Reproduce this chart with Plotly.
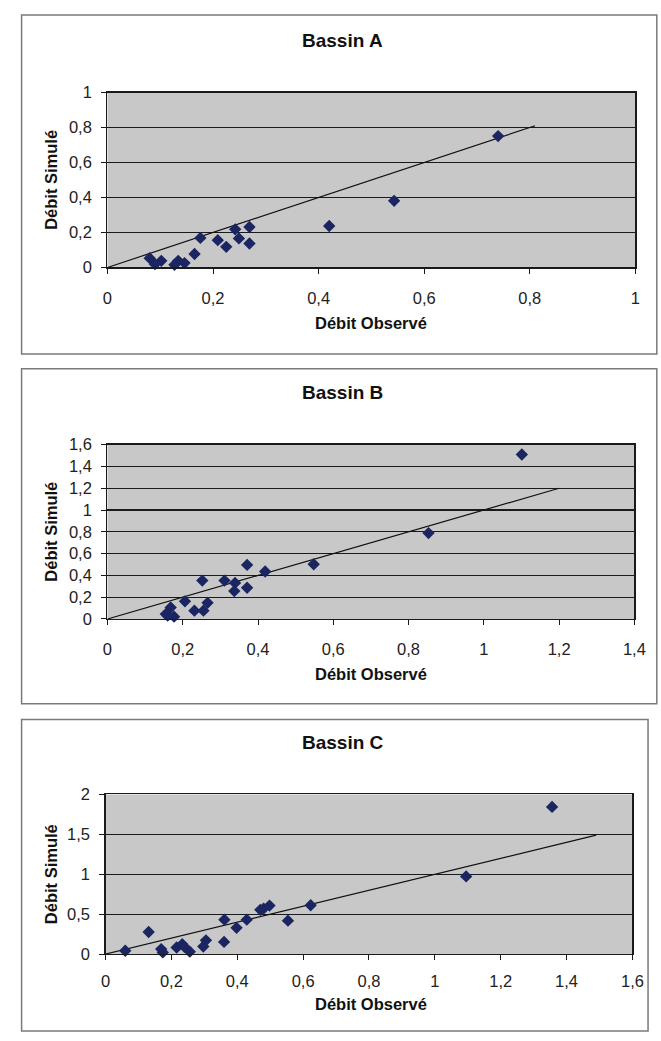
import plotly.graph_objects as go

W, H = 661, 1041

# ---- data ----
titles = ["Bassin A", "Bassin B", "Bassin C"]
x_title = "Débit Observé"
y_title = "Débit Simulé"

A_obs = [0.74, 0.543, 0.42, 0.269, 0.242, 0.249, 0.269, 0.209, 0.225, 0.176, 0.165, 0.134, 0.146, 0.127, 0.08, 0.102, 0.09]
A_sim = [0.751, 0.381, 0.237, 0.231, 0.218, 0.166, 0.137, 0.156, 0.118, 0.169, 0.077, 0.038, 0.025, 0.015, 0.053, 0.038, 0.019]

B_obs = [1.101, 0.853, 0.548, 0.419, 0.371, 0.371, 0.311, 0.339, 0.337, 0.252, 0.266, 0.255, 0.231, 0.206, 0.168, 0.155, 0.177, 0.16]
B_sim = [1.509, 0.788, 0.502, 0.436, 0.496, 0.286, 0.352, 0.331, 0.256, 0.352, 0.148, 0.076, 0.076, 0.162, 0.105, 0.045, 0.021, 0.03]

C_obs = [0.06, 0.131, 0.169, 0.174, 0.216, 0.233, 0.24, 0.256, 0.297, 0.305, 0.36, 0.361, 0.398, 0.429, 0.47, 0.48, 0.498, 0.554, 0.623, 1.095, 1.356]
C_sim = [0.042, 0.276, 0.062, 0.021, 0.082, 0.123, 0.09, 0.03, 0.095, 0.172, 0.152, 0.431, 0.329, 0.431, 0.554, 0.57, 0.608, 0.419, 0.612, 0.973, 1.844]

line_end = [0.81, 1.2, 1.49]          # 1:1 line extent
x_max = [1.0, 1.4, 1.6]
y_max = [1.0, 1.6, 2.0]
y_dtick = [0.2, 0.2, 0.5]

obs = [A_obs, B_obs, C_obs]
sim = [A_sim, B_sim, C_sim]

# ---- layout geometry (pixels) ----
plot_px = [  # x0, x1, ytop, ybottom
    (105, 646, 85, 263),
    (105, 645, 443.3, 620.7),
    (103, 643, 799.3, 961.7),
]
frames_px = [(17, 6, 668, 351), (17, 366, 668, 707), (17, 723, 659, 1040)]
title_y = [32, 390, 746]
xtitle_y = [320, 677, 1013]
x_standoff = [10, 10, 7]

def fx(p):
    return p / W

def fy(p):
    return 1 - p / H

FONT = "Liberation Sans, Arial, sans-serif"
fig = go.Figure()
annotations = []
shapes = []

for i in range(3):
    sfx = "" if i == 0 else str(i + 1)
    xa, ya = "x" + sfx, "y" + sfx
    fig.add_trace(go.Scatter(
        x=[0, line_end[i]], y=[0, line_end[i]], mode="lines",
        line=dict(color="#111111", width=1.2), xaxis=xa, yaxis=ya,
        showlegend=False, hoverinfo="skip"))
    fig.add_trace(go.Scatter(
        x=obs[i], y=sim[i], mode="markers",
        marker=dict(symbol="diamond", size=9.5, color="#1b2562"),
        xaxis=xa, yaxis=ya, showlegend=False, cliponaxis=False))

    x0, x1, yt, yb = plot_px[i]
    axis_common = dict(
        showline=True, linecolor="#1a1a1a", linewidth=1.3, mirror=True,
        ticks="outside", ticklen=5, tickcolor="#1a1a1a", tickwidth=1,
        tickfont=dict(family=FONT, size=16.5, color="#222222"),
        zeroline=False, fixedrange=True)
    fig.layout["xaxis" + sfx] = dict(
        domain=[fx(x0), fx(x1)], range=[0, x_max[i]], dtick=0.2, tick0=0,
        showgrid=False, anchor=ya, ticklabelstandoff=x_standoff[i], **axis_common)
    fig.layout["yaxis" + sfx] = dict(
        domain=[fy(yb), fy(yt)], range=[0, y_max[i]], dtick=y_dtick[i], tick0=0,
        showgrid=True, gridcolor="#1a1a1a", gridwidth=1.3, anchor=xa,
        ticklabelstandoff=6, **axis_common)

    # plot area background
    shapes.append(dict(type="rect", xref="paper", yref="paper",
                       x0=fx(x0), x1=fx(x1), y0=fy(yb), y1=fy(yt),
                       fillcolor="#c8c8c8", line=dict(width=0), layer="below"))
    # chart frame
    f = frames_px[i]
    shapes.append(dict(type="rect", xref="paper", yref="paper",
                       x0=fx(f[0]), x1=fx(f[2]), y0=fy(f[3]), y1=fy(f[1]),
                       line=dict(color="#7a7a7a", width=1.5), layer="below"))

    annotations.append(dict(text="<b>%s</b>" % titles[i], xref="paper", yref="paper",
                            x=fx(346), y=fy(title_y[i]), showarrow=False,
                            xanchor="center", yanchor="middle",
                            font=dict(family=FONT, size=19, color="#111111")))
    annotations.append(dict(text="<b>%s</b>" % x_title, xref="paper", yref="paper",
                            x=fx(375), y=fy(xtitle_y[i]), showarrow=False,
                            xanchor="center", yanchor="middle",
                            font=dict(family=FONT, size=16.5, color="#111111")))
    annotations.append(dict(text="<b>%s</b>" % y_title, xref="paper", yref="paper",
                            x=fx(47), y=fy((yt + yb) / 2), showarrow=False,
                            textangle=-90, xanchor="center", yanchor="middle",
                            font=dict(family=FONT, size=16.5, color="#111111")))

fig.update_layout(
    width=W, height=H, margin=dict(l=0, r=0, t=0, b=0),
    paper_bgcolor="white", plot_bgcolor="rgba(0,0,0,0)",
    separators=", ", shapes=shapes, annotations=annotations,
    showlegend=False,
)

fig.write_html(
    "out.html",
    config={"displayModeBar": False, "staticPlot": True},
    post_script="document.body.style.margin='0';document.body.style.overflow='hidden';",
)
